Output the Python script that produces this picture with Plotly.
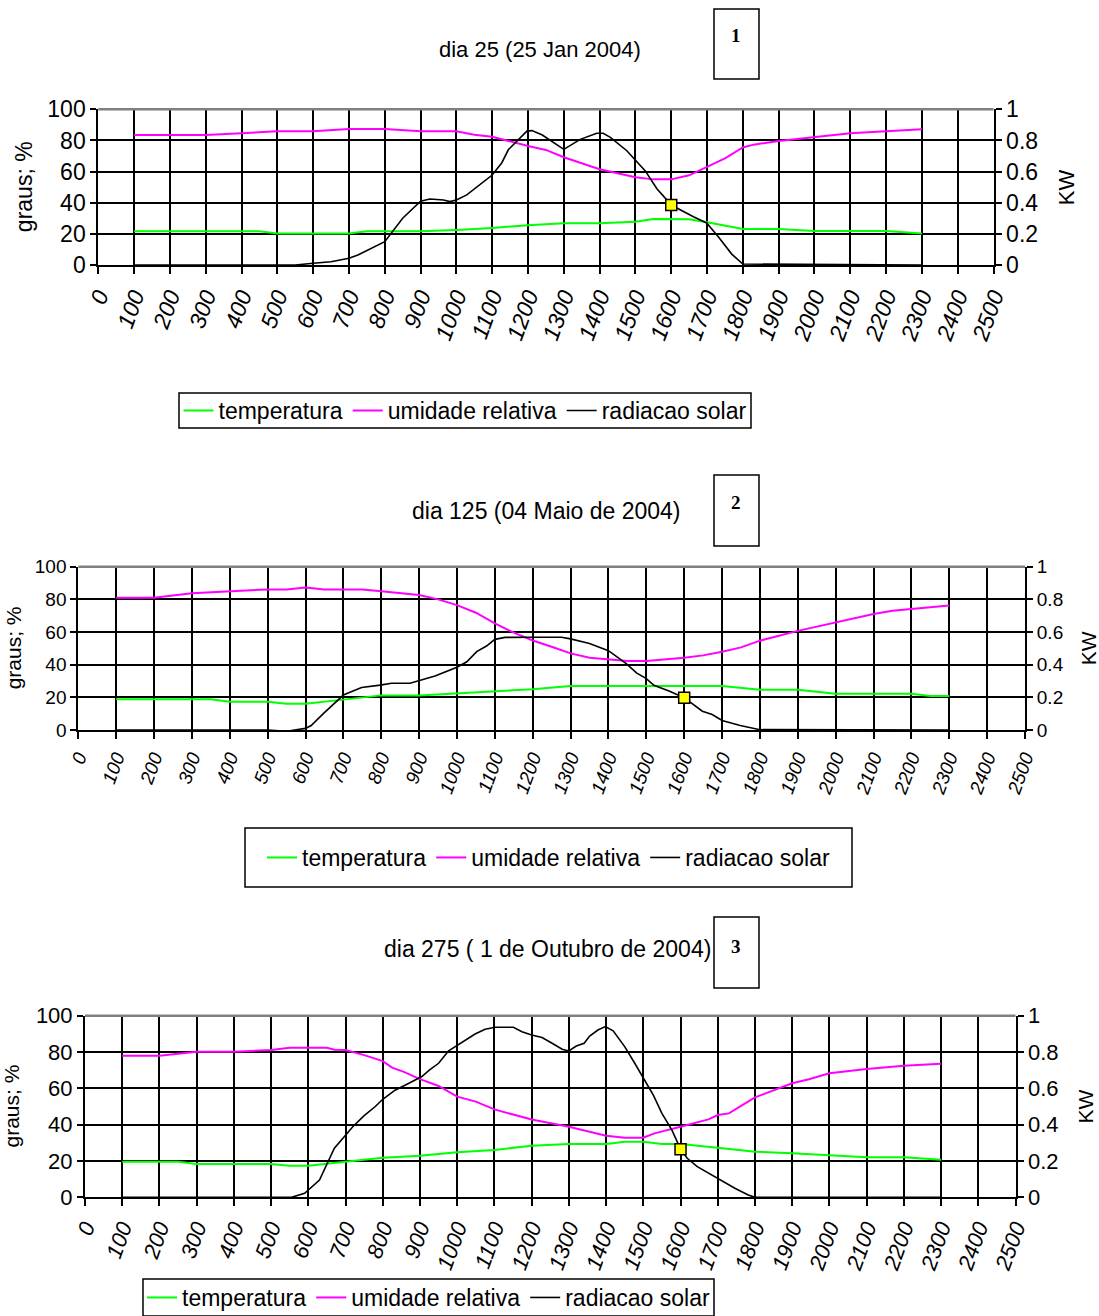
import plotly.graph_objects as go

W, H = 1099, 1316

# ---------------- data ----------------
hour_ticks = list(range(0, 2600, 100))
hour_tick_labels = [str(h) for h in hour_ticks]
left_ticks = [0, 20, 40, 60, 80, 100]
right_ticks = [0, 0.2, 0.4, 0.6, 0.8, 1]
right_tick_labels = ["0", "0.2", "0.4", "0.6", "0.8", "1"]
series_names = ["temperatura", "umidade relativa", "radiacao solar"]

# dia 25 (25 Jan 2004)
d25_temp_h = [100, 200, 300, 400, 450, 500, 600, 700, 750, 800, 900, 1000, 1100, 1200, 1300,
              1400, 1500, 1550, 1600, 1650, 1700, 1800, 1900, 2000, 2100, 2200, 2300]
d25_temp = [21.6, 21.6, 21.6, 21.6, 21.6, 20.3, 20.3, 20.3, 21.6, 21.6, 21.6, 22.5, 23.8, 25.6, 26.8,
            26.8, 27.8, 29.6, 29.6, 29.4, 27.4, 23.1, 23.1, 21.8, 21.8, 21.8, 20.3]
d25_umid_h = [100, 200, 300, 400, 500, 600, 700, 800, 900, 1000, 1050, 1100, 1200, 1250, 1300,
              1400, 1500, 1550, 1600, 1650, 1700, 1750, 1800, 1830, 1900, 2000, 2100, 2200, 2300]
d25_umid = [83.5, 83.5, 83.5, 84.6, 85.9, 85.9, 87.4, 87.4, 85.9, 85.9, 83.7, 82.4, 76.4, 73.9, 69.2,
            61.5, 56.3, 55.0, 55.0, 57.6, 63.0, 68.5, 75.5, 77.3, 79.7, 82.0, 84.6, 85.9, 87.2]
d25_rad_h = [100, 550, 600, 650, 700, 725, 800, 850, 900, 926, 964, 982, 1000, 1029, 1100, 1127,
             1145, 1197, 1211, 1240, 1300, 1346, 1392, 1410, 1430, 1476, 1527, 1560, 1587, 1600,
             1662, 1699, 1732, 1769, 1800, 2300]
d25_rad = [0, 0, 0.011, 0.021, 0.043, 0.064, 0.15, 0.30, 0.41, 0.424, 0.418, 0.407, 0.418, 0.45,
           0.578, 0.657, 0.74, 0.86, 0.863, 0.835, 0.743, 0.807, 0.846, 0.846, 0.82, 0.734, 0.606,
           0.49, 0.42, 0.385, 0.31, 0.27, 0.18, 0.07, 0.006, 0]

# dia 125 (04 Maio de 2004)
d125_temp_h = [100, 200, 300, 350, 400, 500, 550, 600, 700, 800, 900, 1000, 1100, 1200, 1300,
               1400, 1500, 1600, 1700, 1800, 1900, 2000, 2100, 2200, 2250, 2300]
d125_temp = [18.8, 18.8, 18.8, 18.8, 17.3, 17.3, 16.1, 16.1, 18.6, 21.2, 21.2, 22.4, 23.5, 25.0, 27.0,
             27.0, 27.0, 27.0, 27.0, 24.7, 24.7, 22.2, 22.2, 22.2, 20.8, 20.8]
d125_umid_h = [100, 200, 300, 400, 500, 550, 600, 650, 750, 800, 900, 950, 1000, 1050, 1100, 1150,
               1200, 1250, 1300, 1350, 1400, 1450, 1500, 1600, 1650, 1700, 1750, 1800, 1900, 2000,
               2100, 2150, 2200, 2300]
d125_umid = [81.0, 81.0, 83.7, 85.1, 86.1, 86.1, 87.3, 86.1, 86.1, 84.9, 82.7, 80.0, 76.5, 71.8, 65.3,
             59.6, 54.8, 51.0, 46.9, 44.2, 43.2, 42.2, 42.2, 44.2, 45.7, 47.9, 50.6, 54.7, 60.7, 65.8,
             71.0, 73.0, 74.1, 76.3]
d125_rad_h = [100, 500, 550, 600, 615, 647, 700, 748, 797, 827, 876, 942, 1000, 1026, 1052, 1078,
              1100, 1127, 1200, 1276, 1300, 1350, 1400, 1447, 1474, 1500, 1520, 1560, 1600, 1648,
              1674, 1700, 1748, 1800, 2300]
d125_rad = [0, 0, -0.008, 0.01, 0.027, 0.10, 0.214, 0.26, 0.275, 0.286, 0.286, 0.33, 0.384, 0.418,
            0.48, 0.514, 0.555, 0.567, 0.568, 0.568, 0.558, 0.53, 0.486, 0.407, 0.35, 0.315, 0.274,
            0.239, 0.198, 0.115, 0.095, 0.058, 0.027, 0.002, 0]

# dia 275 ( 1 de Outubro de 2004)
d275_temp_h = [100, 200, 250, 300, 400, 500, 550, 600, 700, 800, 900, 1000, 1100, 1200, 1300,
               1400, 1450, 1500, 1550, 1600, 1700, 1800, 1900, 2000, 2100, 2200, 2300]
d275_temp = [19.6, 19.6, 19.6, 18.3, 18.3, 18.3, 17.4, 17.4, 19.6, 21.8, 22.9, 24.8, 26.1, 28.4, 29.4,
             29.4, 30.6, 30.6, 29.4, 29.4, 27.3, 25.1, 24.2, 23.1, 22.0, 22.0, 20.7]
d275_umid_h = [100, 200, 300, 400, 500, 550, 650, 670, 700, 750, 800, 825, 855, 900, 950, 1000,
               1050, 1100, 1200, 1300, 1400, 1450, 1500, 1530, 1600, 1675, 1700, 1730, 1800, 1900,
               1945, 2000, 2100, 2200, 2300]
d275_umid = [78.0, 78.0, 80.2, 80.2, 81.1, 82.4, 82.4, 81.3, 81.1, 78.3, 75.0, 71.4, 69.2, 65.1, 61.3,
             55.4, 52.7, 48.4, 42.8, 38.9, 33.9, 32.8, 32.8, 35.2, 38.9, 42.9, 45.3, 46.2, 55.0, 62.8,
             65.0, 68.3, 70.6, 72.5, 73.6]
d275_rad_h = [100, 555, 590, 630, 670, 700, 720, 750, 780, 800, 833, 869, 905, 925, 950, 977, 1017,
              1048, 1075, 1102, 1151, 1174, 1200, 1228, 1255, 1282, 1300, 1320, 1341, 1356, 1378,
              1398, 1419, 1450, 1477, 1500, 1527, 1550, 1577, 1600, 1618, 1645, 1700, 1746, 1782,
              1800, 2300]
d275_rad = [0, 0, 0.022, 0.095, 0.27, 0.343, 0.39, 0.45, 0.50, 0.54, 0.59, 0.627, 0.665, 0.70, 0.738,
            0.807, 0.857, 0.899, 0.925, 0.936, 0.936, 0.912, 0.894, 0.88, 0.848, 0.815, 0.806, 0.833,
            0.848, 0.888, 0.921, 0.94, 0.917, 0.83, 0.738, 0.655, 0.563, 0.462, 0.37, 0.265, 0.215,
            0.169, 0.105, 0.05, 0.013, 0, 0]

marker_hour = 1600

# ---------------- layout of the three panels (pixels) ----------------
panels = [
    dict(title="dia 25 (25 Jan 2004)", tag="1",
         temp=(d25_temp_h, d25_temp), umid=(d25_umid_h, d25_umid), rad=(d25_rad_h, d25_rad),
         box=(98.3, 993.5, 109.3, 265.0), tick=23, title_xy=(540, 49),
         tag_box=(714, 759, 9, 79), tag_y=36, ytitle_x=24, kw_x=1066,
         leg_box=(179, 751, 393, 428)),
    dict(title="dia 125 (04 Maio de 2004)", tag="2",
         temp=(d125_temp_h, d125_temp), umid=(d125_umid_h, d125_umid), rad=(d125_rad_h, d125_rad),
         box=(78.3, 1025.0, 566.7, 730.0), tick=19, title_xy=(546, 511),
         tag_box=(714, 759, 475, 546), tag_y=503, ytitle_x=13, kw_x=1088,
         leg_box=(245, 852, 828, 887)),
    dict(title="dia 275 ( 1 de Outubro de 2004)", tag="3",
         temp=(d275_temp_h, d275_temp), umid=(d275_umid_h, d275_umid), rad=(d275_rad_h, d275_rad),
         box=(85.0, 1015.5, 1015.7, 1197.3), tick=22, title_xy=(547, 949),
         tag_box=(714, 759, 917, 988), tag_y=946, ytitle_x=11, kw_x=1085,
         leg_box=(143, 714, 1279, 1316)),
]

FONT = "Liberation Sans, Arial, sans-serif"
colors = ["#00FF00", "#FF00FF", "#000000"]


def fx(px):
    return px / W


def fy(py):
    return 1 - py / H


fig = go.Figure()
layout = dict(width=W, height=H, margin=dict(l=0, r=0, t=0, b=0, pad=0, autoexpand=False),
              paper_bgcolor="white", plot_bgcolor="white",
              font=dict(family=FONT, color="black"), showlegend=True)
annotations = []
shapes = []

for i, p in enumerate(panels):
    n = i + 1
    xa = "x" if n == 1 else f"x{n}"
    yl_n = 2 * n - 1
    yr_n = 2 * n
    yl = "y" if yl_n == 1 else f"y{yl_n}"
    yr = f"y{yr_n}"
    leg = "legend" if n == 1 else f"legend{n}"
    x0, x1, y0, y1 = p["box"]

    for k, key in enumerate(["temp", "umid", "rad"]):
        hx, vy = p[key]
        fig.add_trace(go.Scatter(
            x=hx, y=vy, mode="lines", name=series_names[k],
            line=dict(color=colors[k], width=2 if k < 2 else 1.6),
            xaxis=xa, yaxis=(yr if key == "rad" else yl), legend=leg))

    # highlighted radiation point at 16:00
    rh, rv = p["rad"]
    idx = rh.index(marker_hour)
    fig.add_trace(go.Scatter(
        x=[rh[idx]], y=[rv[idx]], mode="markers", showlegend=False,
        marker=dict(symbol="square", size=11, color="#FFFF00",
                    line=dict(color="black", width=1.5)),
        xaxis=xa, yaxis=yr, legend=leg))

    tick_font = dict(family=FONT, size=p["tick"], color="black")
    layout["xaxis" if n == 1 else f"xaxis{n}"] = dict(
        domain=[fx(x0), fx(x1)], anchor=yl, range=[0, 2500],
        tickmode="array", tickvals=hour_ticks, ticktext=hour_tick_labels,
        tickangle=-70, tickfont=dict(family=FONT, size=p["tick"], color="black", style="italic"),
        showgrid=True, gridcolor="black", gridwidth=1.8,
        showline=True, linecolor="black", linewidth=2, automargin=False,
        ticks="outside", ticklen=7, tickwidth=1.5, tickcolor="black", zeroline=False)
    layout["yaxis" if yl_n == 1 else f"yaxis{yl_n}"] = dict(
        domain=[fy(y1), fy(y0)], anchor=xa, range=[0, 100],
        tickmode="array", tickvals=left_ticks, tickfont=tick_font,
        showgrid=True, gridcolor="black", gridwidth=1.8, automargin=False,
        showline=True, linecolor="black", linewidth=2,
        ticks="outside", ticklen=6, tickwidth=1.5, tickcolor="black", zeroline=False)
    layout[f"yaxis{yr_n}"] = dict(
        domain=[fy(y1), fy(y0)], anchor=xa, overlaying=yl, side="right", range=[0, 1],
        tickmode="array", tickvals=right_ticks, ticktext=right_tick_labels, tickfont=tick_font,
        showgrid=False, showline=True, linecolor="black", linewidth=2, automargin=False,
        ticks="outside", ticklen=6, tickwidth=1.5, tickcolor="black", zeroline=False)

    # grey plot-area top edge
    shapes.append(dict(type="line", xref="paper", yref="paper",
                       x0=fx(x0), x1=fx(x1), y0=fy(y0), y1=fy(y0),
                       line=dict(color="#808080", width=2.5)))

    # chart title and numbered box
    tx, ty = p["title_xy"]
    annotations.append(dict(text=p["title"], x=fx(tx), y=fy(ty), xref="paper", yref="paper",
                            showarrow=False, xanchor="center", yanchor="middle",
                            font=dict(family=FONT, size=22 if n == 1 else 23, color="black")))
    bx0, bx1, by0, by1 = p["tag_box"]
    shapes.append(dict(type="rect", xref="paper", yref="paper",
                       x0=fx(bx0), x1=fx(bx1), y0=fy(by1), y1=fy(by0),
                       line=dict(color="black", width=1.5), fillcolor="white"))
    annotations.append(dict(text="<b>" + p["tag"] + "</b>", x=fx((bx0 + bx1) / 2), y=fy(p["tag_y"]),
                            xref="paper", yref="paper", showarrow=False,
                            xanchor="center", yanchor="middle",
                            font=dict(family="Liberation Serif, Times New Roman, serif",
                                      size=19, color="black")))

    # axis titles
    mid = (y0 + y1) / 2
    annotations.append(dict(text="graus; %", textangle=-90, x=fx(p["ytitle_x"]), y=fy(mid),
                            xref="paper", yref="paper", showarrow=False,
                            xanchor="center", yanchor="middle",
                            font=dict(family=FONT, size=23 if n == 1 else 21, color="black")))
    annotations.append(dict(text="KW", textangle=-90, x=fx(p["kw_x"]), y=fy(mid),
                            xref="paper", yref="paper", showarrow=False,
                            xanchor="center", yanchor="middle",
                            font=dict(family=FONT, size=22 if n == 1 else 21, color="black")))

    # legend with its frame
    lx0, lx1, ly0, ly1 = p["leg_box"]
    shapes.append(dict(type="rect", xref="paper", yref="paper",
                       x0=fx(lx0), x1=fx(lx1), y0=fy(ly1), y1=fy(ly0),
                       line=dict(color="black", width=1.5)))
    layout[leg] = dict(orientation="h", x=fx((lx0 + lx1) / 2), y=fy((ly0 + ly1) / 2),
                       xanchor="center", yanchor="middle", bgcolor="rgba(0,0,0,0)",
                       borderwidth=0, font=dict(family=FONT, size=23, color="black"),
                       itemwidth=30, traceorder="normal")

layout["annotations"] = annotations
layout["shapes"] = shapes
fig.update_layout(**layout)

fig.write_html("out.html")
